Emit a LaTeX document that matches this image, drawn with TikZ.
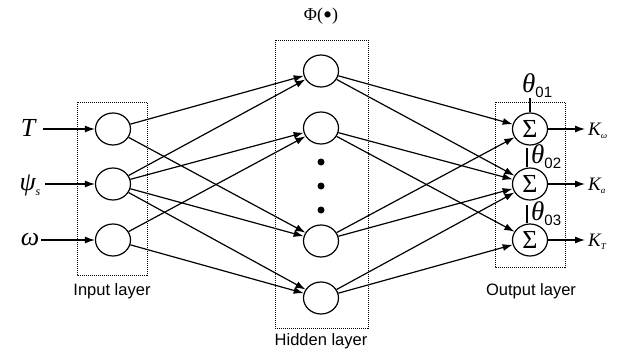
\documentclass[tikz,border=0pt]{standalone}
\usepackage{fontspec}
\newfontfamily\labelfont{Liberation Sans}
\newfontfamily\symfont{Liberation Serif}
\usetikzlibrary{shapes.geometric,arrows.meta}

\tikzset{
  neuron/.style={draw, ellipse, minimum width=35pt, minimum height=32pt, inner sep=0pt, line width=1.2pt},
  layerbox/.style={draw, densely dotted, line width=1pt},
  link/.style={line width=1.2pt, -{Latex[length=10pt,width=7pt]}},
  plain/.style={line width=1.2pt},
  layername/.style={font=\labelfont\fontsize{16.5}{16.5}\selectfont},
  invar/.style={font=\symfont\itshape\fontsize{26}{26}\selectfont},
  outvar/.style={font=\symfont\itshape\fontsize{19}{19}\selectfont, anchor=west, inner sep=1pt},
  bias/.style={font=\symfont\itshape\fontsize{27}{27}\selectfont, anchor=west, inner sep=0pt},
  sumsign/.style={font=\symfont\fontsize{26}{26}\selectfont},
  dot/.style={fill, circle, minimum size=7pt, inner sep=0pt}
}
% small lowered index
\newcommand{\lowidx}[2]{\raisebox{-#1}{#2}}

\begin{document}
\begin{tikzpicture}[x=1pt,y=-1pt]
\useasboundingbox (0,0) rectangle (622,351);

% layer frames
\draw[layerbox] (77,102) rectangle (147,275);
\draw[layerbox] (275,40) rectangle (368,328);
\draw[layerbox] (495,102) rectangle (565,267);

\node[layername] (inlab) at (112,291) {Input layer};
\node[layername] (hidlab) at (321,341) {Hidden layer};
\node[layername] (outlab) at (531,291) {Output layer};
\node[font=\symfont\fontsize{18}{18}\selectfont] (phi) at (321,16) {Φ(\raisebox{-3.5pt}{\fontsize{26}{26}\selectfont •})};

% input neurons
\node[neuron] (i1) at (113,129) {};
\node[neuron] (i2) at (113,184) {};
\node[neuron] (i3) at (113,240) {};

% hidden neurons
\node[neuron] (h1) at (321,71) {};
\node[neuron] (h2) at (321,128) {};
\node[neuron] (h3) at (321,241) {};
\node[neuron] (h4) at (321,298) {};
\node[dot] (d1) at (321,162) {};
\node[dot] (d2) at (321,186) {};
\node[dot] (d3) at (321,210) {};

% output neurons
\node[neuron, sumsign] (o1) at (530,129) {Σ};
\node[neuron, sumsign] (o2) at (530,184) {Σ};
\node[neuron, sumsign] (o3) at (530,240) {Σ};

% inputs
\node[invar] (xT) at (28,128) {T};
\node[invar] (xpsi) at (30,185) {ψ\lowidx{5pt}{\fontsize{12}{12}\selectfont s}};
\node[invar] (xw) at (30,240) {ω};
\coordinate (aT) at (43,129);
\coordinate (apsi) at (45,184);
\coordinate (aw) at (41,240);
\draw[link] (aT) -- (i1);
\draw[link] (apsi) -- (i2);
\draw[link] (aw) -- (i3);

% input -> hidden
\draw[link] (i1) -- (h1);
\draw[link] (i1) -- (h3);
\draw[link] (i2) -- (h1);
\draw[link] (i2) -- (h2);
\draw[link] (i2) -- (h3);
\draw[link] (i2) -- (h4);
\draw[link] (i3) -- (h2);
\draw[link] (i3) -- (h4);

% hidden -> output
\draw[link] (h1) -- (o1);
\draw[link] (h1) -- (o2);
\draw[link] (h2) -- (o2);
\draw[link] (h2) -- (o3);
\draw[link] (h3) -- (o1);
\draw[link] (h3) -- (o2);
\draw[link] (h4) -- (o2);
\draw[link] (h4) -- (o3);

% outputs
\coordinate (e1) at (585,129);
\coordinate (e2) at (585,184);
\coordinate (e3) at (585,240);
\draw[link] (o1) -- (e1);
\draw[link] (o2) -- (e2);
\draw[link] (o3) -- (e3);
\node[outvar] (k1) at (587,131) {K\lowidx{3pt}{\fontsize{9}{9}\selectfont ω}};
\node[outvar] (k2) at (587,186) {K\lowidx{3pt}{\fontsize{9}{9}\selectfont a}};
\node[outvar] (k3) at (587,242) {K\lowidx{3pt}{\fontsize{9}{9}\selectfont T}};

% thresholds
\coordinate (t1) at (530,98);
\coordinate (t2) at (527,148);
\coordinate (t3) at (527,205);
\draw[plain] (t1) -- (o1.north);
\draw[plain] (t2) -- (t2 |- o2.north);
\draw[plain] (t3) -- (t3 |- o3.north);
\node[bias] (th1) at (522,86) {θ\lowidx{5pt}{\upshape\labelfont\fontsize{15}{15}\selectfont 01}};
\node[bias] (th2) at (531,157) {θ\lowidx{5pt}{\upshape\labelfont\fontsize{15}{15}\selectfont 02}};
\node[bias] (th3) at (531,214) {θ\lowidx{5pt}{\upshape\labelfont\fontsize{15}{15}\selectfont 03}};
\end{tikzpicture}
\end{document}
